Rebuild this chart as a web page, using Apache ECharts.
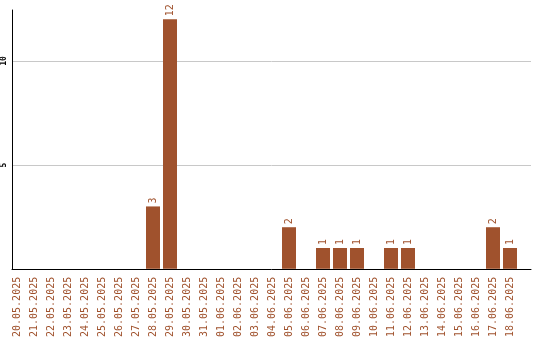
<!DOCTYPE html>
<html><head><meta charset="utf-8">
<script src="https://cdn.jsdelivr.net/npm/echarts@6/dist/echarts.min.js"></script>
<style>html,body{margin:0;padding:0;background:#fff}#c{width:540px;height:340px}</style>
</head><body><div id="c"></div>
<script>
const categories = ["20.05.2025","21.05.2025","22.05.2025","23.05.2025","24.05.2025","25.05.2025","26.05.2025","27.05.2025","28.05.2025","29.05.2025","30.05.2025","31.05.2025","01.06.2025","02.06.2025","03.06.2025","04.06.2025","05.06.2025","06.06.2025","07.06.2025","08.06.2025","09.06.2025","10.06.2025","11.06.2025","12.06.2025","13.06.2025","14.06.2025","15.06.2025","16.06.2025","17.06.2025","18.06.2025"];
const values = [0,0,0,0,0,0,0,0,3,12,0,0,0,0,0,0,2,0,1,1,1,0,1,1,0,0,0,0,2,1];
const yTicks = [5, 10];

const brown = '#a0522d';
const mono = 'DejaVu Sans Mono';
const chart = echarts.init(document.getElementById('c'));
chart.setOption({
  animation: false,
  grid: [
    {left: 11, right: 9, top: 10, bottom: 71},
    {left: 8.5, width: 510, top: 10, bottom: 71}
  ],
  xAxis: [
    {gridIndex: 0, type: 'value', min: 0, max: 1, axisLine: {show: true, lineStyle: {color: '#000', width: 1}},
     axisTick: {show: false}, axisLabel: {show: false}, splitLine: {show: false}},
    {gridIndex: 1, type: 'category', data: categories, axisLine: {show: false}, axisTick: {show: false},
     axisLabel: {interval: 0, rotate: 90, margin: 8, color: brown, fontFamily: mono, fontSize: 10}}
  ],
  yAxis: [
    {gridIndex: 0, type: 'value', min: 0, max: 12.45, interval: 5,
     axisLine: {show: true, lineStyle: {color: '#000', width: 1}}, axisTick: {show: false},
     axisLabel: {rotate: 90, margin: 4, color: '#000', fontFamily: mono, fontSize: 8, fontWeight: 'bold',
       showMinLabel: false, showMaxLabel: false,
       formatter: v => yTicks.indexOf(v) >= 0 ? String(v) : ''},
     splitLine: {show: true, showMinLine: false, showMaxLine: false, lineStyle: {color: '#c8c8c8', width: 1}}},
    {gridIndex: 1, type: 'value', min: 0, max: 12.45, show: false}
  ],
  series: [{
    type: 'bar', xAxisIndex: 1, yAxisIndex: 1, data: values.map(v => v === 0 ? null : v), barWidth: 14,
    itemStyle: {color: brown},
    label: {show: true, position: 'top', rotate: 90, distance: 3, align: 'left', verticalAlign: 'middle',
      color: brown, fontFamily: mono, fontSize: 10}
  }]
});
</script></body></html>
